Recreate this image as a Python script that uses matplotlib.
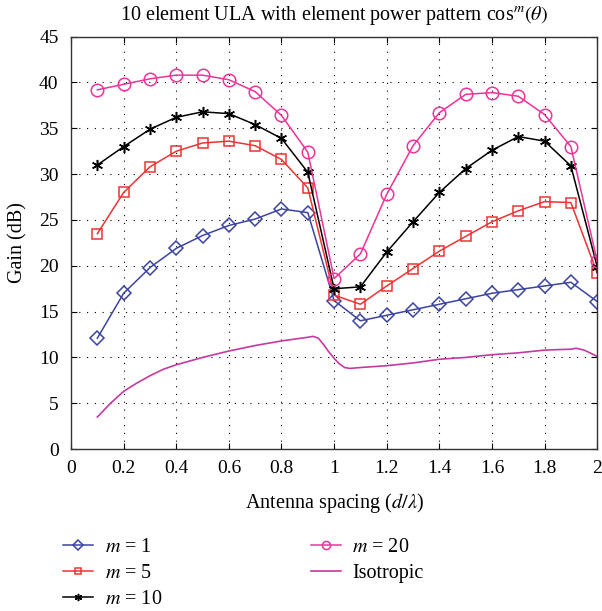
import numpy as np
import matplotlib
matplotlib.use("Agg")
import matplotlib.pyplot as plt
from matplotlib.ticker import FormatStrFormatter

plt.rcParams['font.family'] = ['Liberation Serif', 'DejaVu Serif']
plt.rcParams['mathtext.fontset'] = 'stix'

# antenna spacing d/lambda for the marker series
spacing = [0.1, 0.2, 0.3, 0.4, 0.5, 0.6, 0.7, 0.8, 0.9, 1.0,
           1.1, 1.2, 1.3, 1.4, 1.5, 1.6, 1.7, 1.8, 1.9, 2.0]

gain_m1 = [12.1, 17.0, 19.8, 21.9, 23.3, 24.4, 25.1, 26.2, 25.8, 16.2,
           14.0, 14.6, 15.2, 15.8, 16.4, 17.0, 17.4, 17.8, 18.2, 16.1]
gain_m5 = [23.5, 28.0, 30.8, 32.5, 33.4, 33.6, 33.1, 31.6, 28.5, 16.8,
           15.8, 17.8, 19.7, 21.6, 23.2, 24.8, 26.0, 27.0, 26.9, 19.2]
gain_m10 = [31.0, 33.0, 34.9, 36.2, 36.8, 36.6, 35.4, 33.9, 30.2, 17.5,
            17.7, 21.5, 24.8, 28.0, 30.6, 32.6, 34.1, 33.6, 30.9, 19.9]
gain_m20 = [39.2, 39.8, 40.4, 40.8, 40.8, 40.3, 39.0, 36.4, 32.4, 18.6,
            21.3, 27.8, 33.1, 36.7, 38.7, 38.9, 38.5, 36.5, 33.0, 20.5]

# isotropic curve
iso_x = [0.1, 0.12, 0.15, 0.2, 0.25, 0.3, 0.35, 0.4, 0.5, 0.6, 0.7, 0.8,
         0.85, 0.9, 0.92, 0.94, 0.96, 0.98, 1.0, 1.02, 1.04, 1.06, 1.1,
         1.2, 1.3, 1.4, 1.5, 1.6, 1.7, 1.8, 1.9, 1.92, 1.95, 1.98, 2.0]
iso_y = [3.5, 4.1, 5.0, 6.3, 7.2, 8.0, 8.7, 9.2, 10.0, 10.7, 11.3, 11.8,
         12.0, 12.2, 12.3, 12.1, 11.4, 10.6, 9.9, 9.3, 8.9, 8.8, 8.9,
         9.1, 9.4, 9.8, 10.0, 10.3, 10.5, 10.8, 10.9, 11.0, 10.8, 10.4, 10.1]

fig = plt.figure(figsize=(6.02, 6.11), dpi=100)
ax = fig.add_axes([0.118, 0.265, 0.874, 0.675])

ax.plot(spacing, gain_m1, color='#3b44a0', marker='D', markersize=7.5,
        mfc='none', mew=1.1, lw=1.1, label='$m$ = 1')
ax.plot(spacing, gain_m5, color='#ee3333', marker='s', markersize=7.5,
        mfc='none', mew=1.1, lw=1.1, label='$m$ = 5')
ax.plot(spacing, gain_m10, color='black', marker=(6, 2, 0), markersize=8,
        mew=1.1, lw=1.1, label='$m$ = 10')
ax.plot(spacing, gain_m20, color='#ee3399', marker='o', markersize=9,
        mfc='none', mew=1.1, lw=1.1, label='$m$ = 20')
ax.plot(iso_x, iso_y, color='#c43aa0', lw=1.2, label='Isotropic')

ax.set_xlim(0, 2)
ax.set_ylim(0, 45)
ax.set_xticks(np.arange(0, 2.01, 0.2))
ax.set_yticks(np.arange(0, 46, 5))
ax.xaxis.set_major_formatter(FormatStrFormatter('%g'))
ax.tick_params(direction='in', top=True, right=True, labelsize=14, length=4)
ax.tick_params(axis='x', pad=8)
ax.tick_params(axis='y', pad=9)
ax.grid(True, color='black', linestyle=(0, (1, 6)), linewidth=0.8)
for s in ax.spines.values():
    s.set_linewidth(1.0)
    s.set_color('#333333')

ax.set_xlabel('Antenna spacing ($d/\\lambda$)', fontsize=14.5, labelpad=10)
ax.set_ylabel('Gain (dB)', fontsize=14.5, labelpad=8)
ax.set_title('10 element ULA with element power pattern cos$^m(\\theta)$',
             fontsize=14.5, pad=12)

fig.legend(loc='upper left', bbox_to_anchor=(0.075, 0.15), ncol=2,
           frameon=False, fontsize=14.5, handlelength=1.5, columnspacing=7.4,
           labelspacing=0.36, handletextpad=0.55, markerscale=0.65)

fig.savefig('out.png', dpi=100)
